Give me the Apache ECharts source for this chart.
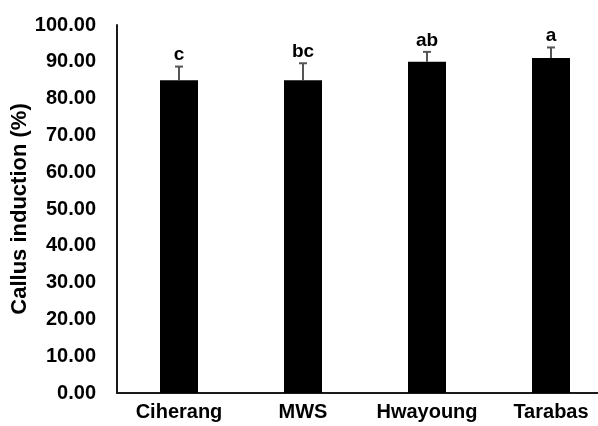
<!DOCTYPE html>
<html>
<head>
<meta charset="utf-8">
<script src="https://cdn.jsdelivr.net/npm/echarts@6/dist/echarts.min.js"></script>
<style>
html,body{margin:0;padding:0;background:#fff;}
#chart{width:598px;height:426px;}
</style>
</head>
<body>
<div id="chart"></div>
<script>
var categories = ['Ciherang', 'MWS', 'Hwayoung', 'Tarabas'];
var means = [85, 85, 90, 91];
var errors = [3.7, 4.6, 2.7, 2.9];
var letters = ['c', 'bc', 'ab', 'a'];
var yTicks = [0, 10, 20, 30, 40, 50, 60, 70, 80, 90, 100];

var FONT = '"Liberation Sans", Arial, sans-serif';
var chart = echarts.init(document.getElementById('chart'));

var errData = categories.map(function (c, i) { return [i, means[i], errors[i]]; });

chart.setOption({
  animation: false,
  grid: { left: 117, right: -15, top: 25, bottom: 33, containLabel: false, outerBoundsMode: 'none' },
  xAxis: {
    type: 'category',
    data: categories,
    axisLine: { show: true, lineStyle: { color: '#1a1a1a', width: 2 } },
    axisTick: { show: false },
    axisLabel: { interval: 0, color: '#000', fontFamily: FONT, fontWeight: 'bold', fontSize: 20, margin: 9 }
  },
  yAxis: {
    type: 'value',
    min: yTicks[0],
    max: yTicks[yTicks.length - 1],
    interval: 10,
    name: 'Callus induction (%)',
    nameLocation: 'middle',
    nameGap: 86,
    nameMoveOverlap: false,
    nameTextStyle: { color: '#000', fontFamily: FONT, fontWeight: 'bold', fontSize: 22 },
    axisLine: { show: true, lineStyle: { color: '#1a1a1a', width: 2 } },
    axisTick: { show: false },
    splitLine: { show: false },
    axisLabel: {
      color: '#000', fontFamily: FONT, fontWeight: 'bold', fontSize: 20, margin: 21,
      formatter: function (v) { return v.toFixed(2); }
    }
  },
  series: [
    {
      type: 'bar',
      data: means,
      barWidth: 38,
      itemStyle: { color: '#000' },
      z: 2
    },
    {
      type: 'custom',
      data: errData,
      z: 3,
      renderItem: function (params, api) {
        var x = api.value(0);
        var m = api.value(1);
        var e = api.value(2);
        var base = api.coord([x, m]);
        var top = api.coord([x, m + e]);
        var cap = 4;
        return {
          type: 'group',
          children: [
            { type: 'line', shape: { x1: base[0], y1: base[1], x2: top[0], y2: top[1] },
              style: { stroke: '#555', lineWidth: 2 } },
            { type: 'line', shape: { x1: top[0] - cap, y1: top[1], x2: top[0] + cap, y2: top[1] },
              style: { stroke: '#555', lineWidth: 2 } },
            { type: 'text', x: top[0], y: top[1] - 2,
              style: { text: letters[params.dataIndex], fill: '#000',
                font: 'bold 19px ' + FONT, align: 'center', verticalAlign: 'bottom' } }
          ]
        };
      }
    }
  ]
});
</script>
</body>
</html>
